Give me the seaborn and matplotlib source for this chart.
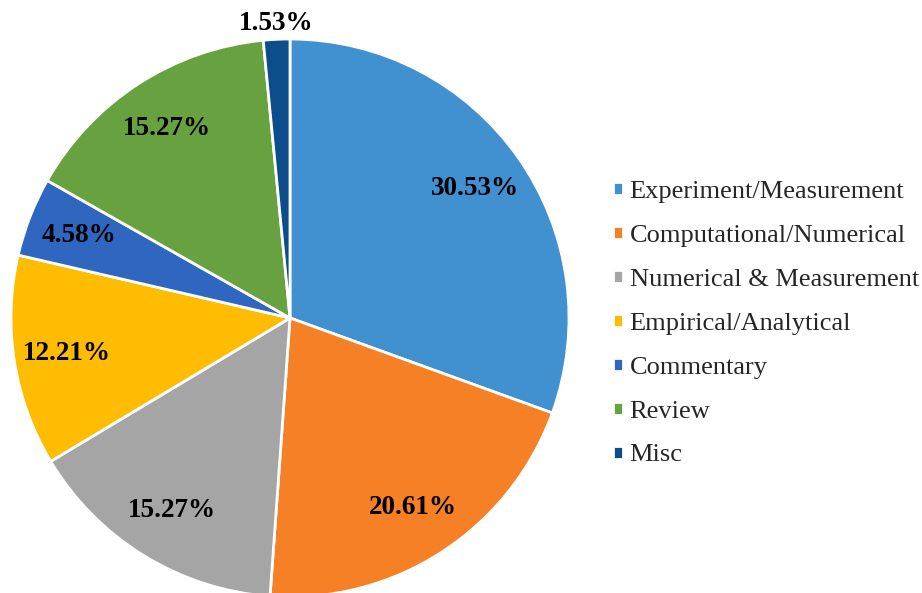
import numpy as np
import matplotlib
matplotlib.use("Agg")
import matplotlib.pyplot as plt
import seaborn as sns

# Study categories and their share (%)
categories = ['Experiment/Measurement', 'Computational/Numerical', 'Numerical & Measurement',
              'Empirical/Analytical', 'Commentary', 'Review', 'Misc']
shares = [30.53, 20.61, 15.27, 12.21, 4.58, 15.27, 1.53]
colors = ['#4191d1', '#f58025', '#a5a5a5', '#ffbc00', '#2f66c0', '#68a140', '#0e4d8c']

sns.set_theme(style='white')
plt.rcParams['font.family'] = ['Liberation Serif', 'DejaVu Serif']

W, H = 922, 593
cx, cy, R = 290, 318, 279  # pie centre and radius in pixels

fig = plt.figure(figsize=(W / 100, H / 100), dpi=100)
ax = fig.add_axes([0, 0, 1, 1])

palette = sns.color_palette(colors)
wedges, texts, autotexts = ax.pie(
    shares, colors=palette, startangle=90, counterclock=False,
    autopct=lambda p: f'{p:.2f}%', pctdistance=0.81,
    wedgeprops=dict(edgecolor='white', linewidth=2),
    textprops=dict(fontsize=19.5, fontweight='bold', color='black'))

# small Misc slice: label sits just outside the pie
w = wedges[-1]
mid = np.deg2rad((w.theta1 + w.theta2) / 2)
autotexts[-1].set_position((1.055 * np.cos(mid), 1.055 * np.sin(mid)))

ax.set_xlim(-cx / R, (W - cx) / R)
ax.set_ylim(-(H - cy) / R, cy / R)
ax.set_aspect('auto')
ax.axis('off')

fig.legend(wedges, categories, loc='center left', bbox_to_anchor=(613 / W, 0.454),
           frameon=False, fontsize=19, handlelength=0.38, handleheight=0.38,
           handletextpad=0.25, labelspacing=0.83, borderpad=0, borderaxespad=0)

fig.savefig('out.png', dpi=100)
